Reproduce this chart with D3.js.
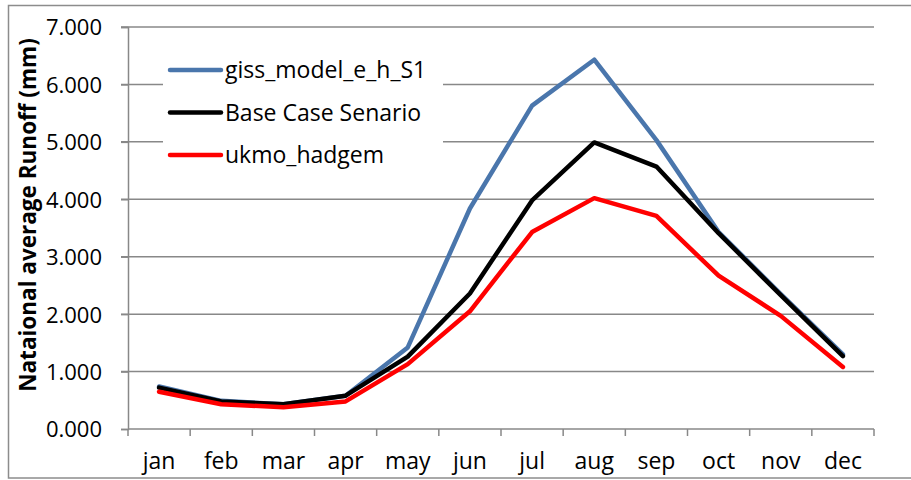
<!DOCTYPE html>
<html>
<head>
<meta charset="utf-8">
<script src="https://cdn.jsdelivr.net/npm/d3@7"></script>
<style>
  body { margin: 0; background: #fff; }
  text { font-family: "Open Sans", Lato, sans-serif; fill: #000; }
</style>
</head>
<body>
<div id="chart"></div>
<script>
// months and runoff series (mm)
const months = ["jan","feb","mar","apr","may","jun","jul","aug","sep","oct","nov","dec"];
const giss = [0.74, 0.49, 0.43, 0.58, 1.42, 3.84, 5.63, 6.43, 5.03, 3.43, 2.35, 1.30];
const baseCase = [0.72, 0.48, 0.43, 0.58, 1.26, 2.36, 3.98, 4.99, 4.57, 3.41, 2.33, 1.27];
const ukmo = [0.65, 0.43, 0.38, 0.48, 1.13, 2.05, 3.43, 4.02, 3.71, 2.67, 1.97, 1.08];
const yTicks = [0, 1, 2, 3, 4, 5, 6, 7];
const seriesNames = ["giss_model_e_h_S1", "Base Case Senario", "ukmo_hadgem"];
const seriesColors = ["#4a76ac", "#000000", "#ff0000"];

const width = 911, height = 480;
const margin = {left: 128, right: 37, top: 27, bottom: 51};

const svg = d3.select("#chart").append("svg")
    .attr("width", width)
    .attr("height", height);

// chart area border (right side runs off the picture)
svg.append("rect")
    .attr("x", 8.5).attr("y", 5.5)
    .attr("width", width + 10).attr("height", 472.5)
    .attr("fill", "none")
    .attr("stroke", "#8c8c8c")
    .attr("stroke-width", 1.5);

const x = d3.scaleBand()
    .domain(months)
    .range([margin.left, width - margin.right]);

const y = d3.scaleLinear()
    .domain([0, 7])
    .range([height - margin.bottom, margin.top]);

// gridlines
svg.append("g").attr("class", "grid")
  .selectAll("line")
  .data(yTicks.filter(d => d > 0))
  .join("line")
    .attr("x1", margin.left - 7)
    .attr("x2", width - margin.right)
    .attr("y1", d => y(d))
    .attr("y2", d => y(d))
    .attr("stroke", "#888")
    .attr("stroke-width", 1.5);

// y axis
const yAxis = svg.append("g")
    .attr("transform", `translate(${margin.left},0)`)
    .call(d3.axisLeft(y).tickValues(yTicks).tickFormat(d3.format(".3f")).tickSize(7).tickPadding(19));
yAxis.select(".domain").attr("stroke", "#888").attr("stroke-width", 1.5);
yAxis.selectAll(".tick line").attr("stroke", "#888").attr("stroke-width", 1.5);
yAxis.selectAll("text").style("font-size", "22px").attr("dy", "0.36em");

// x axis: ticks at category boundaries
const xAxisG = svg.append("g")
    .attr("transform", `translate(0,${y(0)})`);
xAxisG.append("line")
    .attr("x1", margin.left).attr("x2", width - margin.right)
    .attr("stroke", "#888").attr("stroke-width", 1.5);
const bounds = months.map(m => x(m)).concat([x.range()[1]]);
xAxisG.selectAll(".xtick")
  .data(bounds)
  .join("line")
    .attr("class", "xtick")
    .attr("x1", d => d).attr("x2", d => d)
    .attr("y1", 0).attr("y2", 7)
    .attr("stroke", "#888").attr("stroke-width", 1.5);
xAxisG.selectAll(".xlabel")
  .data(months)
  .join("text")
    .attr("class", "xlabel")
    .attr("x", d => x(d) + x.bandwidth() / 2)
    .attr("y", 40)
    .attr("text-anchor", "middle")
    .style("font-size", "23px")
    .text(d => d);

// y axis title
svg.append("text")
    .attr("transform", `translate(36,215) rotate(-90)`)
    .attr("text-anchor", "middle")
    .style("font-size", "22.5px")
    .style("font-weight", "bold")
    .text("Nataional average Runoff (mm)");

// lines
const line = d3.line()
    .x((d, i) => x(months[i]) + x.bandwidth() / 2)
    .y(d => y(d));

const allSeries = [giss, baseCase, ukmo];
svg.append("g").selectAll("path")
  .data(allSeries)
  .join("path")
    .attr("d", line)
    .attr("fill", "none")
    .attr("stroke", (d, i) => seriesColors[i])
    .attr("stroke-width", 4.5)
    .attr("stroke-linejoin", "round")
    .attr("stroke-linecap", "round");

// legend
const legend = svg.append("g");
legend.append("rect")
    .attr("x", 163).attr("y", 38)
    .attr("width", 280).attr("height", 150)
    .attr("fill", "#fff");
const item = legend.selectAll(".item")
  .data(seriesNames)
  .join("g")
    .attr("class", "item")
    .attr("transform", (d, i) => `translate(170,${70 + i * 42.5})`);
item.append("line")
    .attr("x1", 0).attr("x2", 51)
    .attr("stroke", (d, i) => seriesColors[i])
    .attr("stroke-width", 4.5)
    .attr("stroke-linecap", "round");
item.append("text")
    .attr("x", 55)
    .attr("dy", "0.36em")
    .style("font-size", "23px")
    .text(d => d);
</script>
</body>
</html>
